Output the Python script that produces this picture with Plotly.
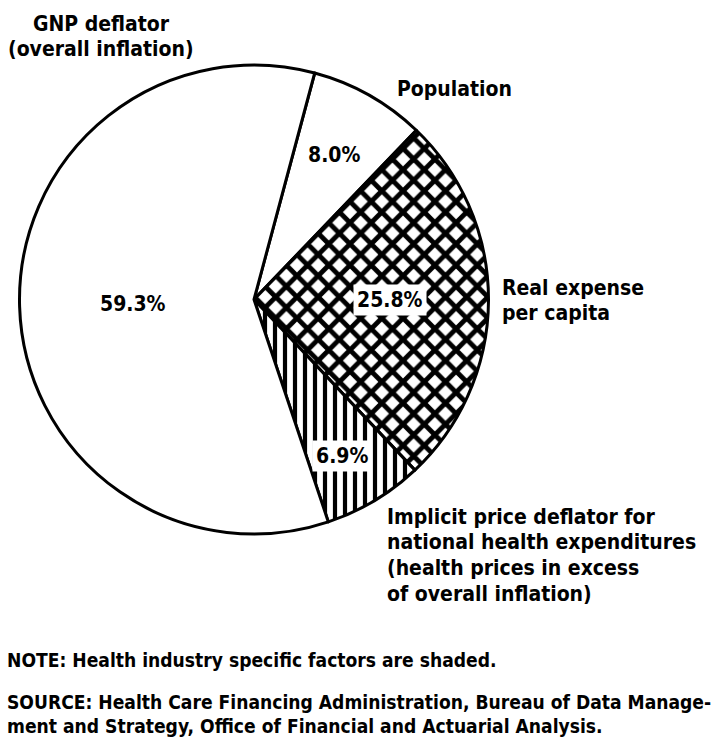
import plotly.graph_objects as go

# ---- data ----
labels = ["Population", "Real expense per capita",
          "Implicit price deflator for national health expenditures",
          "GNP deflator"]
values = [8.0, 25.8, 6.9, 59.3]
value_text = ["8.0%", "25.8%", "6.9%", "59.3%"]
label_population = ["Population"]
label_real = ["Real expense", "per capita"]
label_implicit = ["Implicit price deflator for", "national health expenditures",
                  "(health prices in excess", "of overall inflation)"]
label_gnp = ["GNP deflator", "(overall inflation)"]
note_lines = ["NOTE: Health industry specific factors are shaded."]
source_lines = ["SOURCE: Health Care Financing Administration, Bureau of Data Manage-",
                "ment and Strategy, Office of Financial and Actuarial Analysis."]

# ---- layout constants (pixels from top-left) ----
W, H = 724, 749
CX, CY, R = 254, 299.5, 234.5
ROT = 15.0
FONT = "DejaVu Sans Condensed, Liberation Sans, sans-serif"
FS_LABEL, FS_PCT, FS_NOTE = 21, 21, 19.1

def px(x):
    return x / W

def py(y):
    return 1 - y / H

pattern = dict(
    shape=["", "x", "|", ""],
    fgcolor=["black"] * 4,
    bgcolor=["white"] * 4,
    size=[10, 15, 10, 10],
    solidity=[0.3, 0.55, 0.42, 0.3],
)

fig = go.Figure(go.Pie(
    labels=labels, values=values, sort=False, direction="clockwise",
    rotation=ROT, textinfo="none", hoverinfo="label+percent",
    marker=dict(colors=["white"] * 4, line=dict(color="black", width=3),
                pattern=pattern),
    domain=dict(x=[px(CX - R), px(CX + R)], y=[py(CY + R), py(CY - R)]),
    showlegend=False,
))

anns = []

# percentage labels (centre positions) and whether they sit on a white box
pct_pos = [(334, 155), (390, 300.5), (342, 456), (133, 304)]
pct_box = [False, True, True, False]
for t, (x, y), b in zip(value_text, pct_pos, pct_box):
    anns.append(dict(x=px(x), y=py(y), xref="paper", yref="paper", text=t,
                     showarrow=False, xanchor="center", yanchor="middle",
                     font=dict(family=FONT, size=FS_PCT, color="black", weight="bold"),
                     bgcolor="white" if b else "rgba(0,0,0,0)", borderpad=3))

def block(lines, x, y0, step, size, xanchor="left"):
    for i, ln in enumerate(lines):
        anns.append(dict(x=px(x), y=py(y0 + i * step), xref="paper", yref="paper",
                         text=ln, showarrow=False, xanchor=xanchor, yanchor="middle",
                         font=dict(family=FONT, size=size, color="black", weight="bold")))

block(label_gnp, 101, 23.5, 25.6, FS_LABEL, xanchor="center")
block(label_population, 394.5, 89.3, 25.6, FS_LABEL)
block(label_real, 499.5, 287.6, 25.0, FS_LABEL)
block(label_implicit, 385, 516.6, 25.8, FS_LABEL)
block(note_lines, 5, 660, 24, FS_NOTE)
block(source_lines, 5, 702, 24, FS_NOTE)

fig.update_layout(
    width=W, height=H, margin=dict(l=0, r=0, t=0, b=0),
    paper_bgcolor="white", plot_bgcolor="white",
    annotations=anns, font=dict(family=FONT),
)

fig.write_html("out.html", config={"displayModeBar": False},
               post_script="document.body.style.margin='0';")
